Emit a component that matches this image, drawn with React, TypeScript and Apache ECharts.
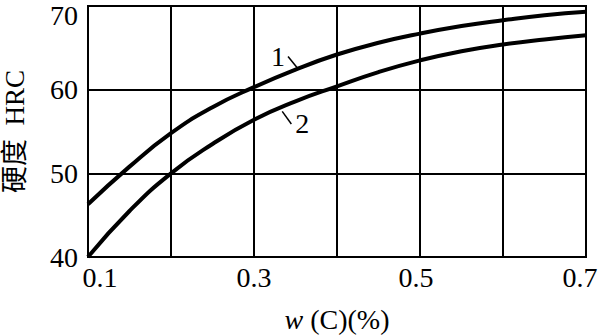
import React, { useEffect, useRef } from "react";
import * as echarts from "echarts";

const carbon = [0.1, 0.15, 0.2, 0.25, 0.3, 0.35, 0.4, 0.45, 0.5, 0.55, 0.6, 0.65, 0.7];
const hardness1 = [46.3, 50.8, 54.8, 57.9, 60.3, 62.4, 64.2, 65.6, 66.7, 67.6, 68.3, 68.9, 69.3];
const hardness2 = [40.0, 45.5, 50.0, 53.5, 56.4, 58.6, 60.4, 62.1, 63.5, 64.6, 65.4, 66.0, 66.5];
const xTickLabels = ["0.1", "0.3", "0.5", "0.7"];
const curveNames = ["1", "2"];

const SERIF = "'Liberation Serif', 'DejaVu Serif', 'Noto Sans CJK SC', serif";

export default function App() {
  const ref = useRef<HTMLDivElement>(null);
  useEffect(() => {
    if (!ref.current) return;
    const chart = echarts.init(ref.current, null, { renderer: "svg" });
    const pts = (ys: number[]) => carbon.map((x, i) => [x, ys[i]]);
    const lineStyleLeader = { color: "#000", width: 1.5, type: "solid" as const };
    chart.setOption({
      animation: false,
      backgroundColor: "#fff",
      textStyle: { fontFamily: SERIF, color: "#000" },
      grid: {
        left: 88,
        right: 14,
        top: 6,
        bottom: 78,
        show: true,
        borderColor: "#000",
        borderWidth: 2,
        containLabel: false,
        outerBoundsMode: "none",
      },
      xAxis: {
        type: "value",
        min: 0.1,
        max: 0.7,
        interval: 0.1,
        name: "{i|w} (C)(%)",
        nameLocation: "middle",
        nameGap: 50,
        nameTextStyle: {
          fontFamily: SERIF,
          fontSize: 28,
          lineHeight: 24,
          color: "#000",
          rich: { i: { fontStyle: "italic", fontFamily: SERIF, fontSize: 28, lineHeight: 24, color: "#000" } },
        },
        axisLine: { show: true, lineStyle: { color: "#000", width: 2 } },
        axisTick: { show: false },
        splitLine: { show: true, lineStyle: { color: "#000", width: 2 } },
        axisLabel: {
          color: "#000",
          fontSize: 28,
          fontFamily: SERIF,
          margin: 6,
          formatter: (v: number) => {
            const s = (Math.round(v * 10) / 10).toFixed(1);
            if (!xTickLabels.includes(s)) return "";
            if (s === "0.1") return "{l|" + s + "}";
            if (s === "0.5") return "{m|" + s + "}";
            if (s === "0.7") return "{r|" + s + "}";
            return s;
          },
          rich: {
            l: { fontSize: 28, fontFamily: SERIF, color: "#000", padding: [0, 0, 0, 24] },
            m: { fontSize: 28, fontFamily: SERIF, color: "#000", padding: [0, 8, 0, 0] },
            r: { fontSize: 28, fontFamily: SERIF, color: "#000", padding: [0, 12, 0, 0] },
          },
        },
      },
      yAxis: {
        type: "value",
        min: 40,
        max: 70,
        interval: 10,
        name: "硬度  HRC",
        nameLocation: "middle",
        nameGap: 60,
        nameRotate: 90,
        nameTextStyle: { fontFamily: SERIF, fontSize: 27, color: "#000" },
        axisLine: { show: true, lineStyle: { color: "#000", width: 2 } },
        axisTick: { show: false },
        splitLine: { show: true, lineStyle: { color: "#000", width: 2 } },
        axisLabel: {
          color: "#000",
          fontSize: 28,
          lineHeight: 18,
          fontFamily: SERIF,
          margin: 10,
          verticalAlignMaxLabel: "top",
        },
      },
      series: [
        {
          type: "line",
          name: curveNames[0],
          data: pts(hardness1),
          smooth: 0.5,
          showSymbol: false,
          lineStyle: { color: "#000", width: 4 },
          markPoint: {
            symbol: "circle",
            symbolSize: 0,
            label: { show: true, formatter: curveNames[0], fontSize: 28, fontFamily: SERIF, color: "#000" },
            data: [{ coord: [0.329, 64.0] }],
          },
          markLine: {
            symbol: "none",
            silent: true,
            label: { show: false },
            lineStyle: lineStyleLeader,
            data: [[{ coord: [0.341, 63.96] }, { coord: [0.353, 62.5] }]],
          },
        },
        {
          type: "line",
          name: curveNames[1],
          data: pts(hardness2),
          smooth: 0.5,
          showSymbol: false,
          lineStyle: { color: "#000", width: 4 },
          markPoint: {
            symbol: "circle",
            symbolSize: 0,
            label: { show: true, formatter: curveNames[1], fontSize: 28, fontFamily: SERIF, color: "#000" },
            data: [{ coord: [0.358, 55.9] }],
          },
          markLine: {
            symbol: "none",
            silent: true,
            label: { show: false },
            lineStyle: lineStyleLeader,
            data: [[{ coord: [0.334, 57.4] }, { coord: [0.345, 55.9] }]],
          },
        },
      ],
    });
    return () => chart.dispose();
  }, []);
  return (
    <div
      ref={ref}
      style={{ position: "fixed", left: 0, top: 0, width: 600, height: 335, background: "#fff" }}
    />
  );
}
